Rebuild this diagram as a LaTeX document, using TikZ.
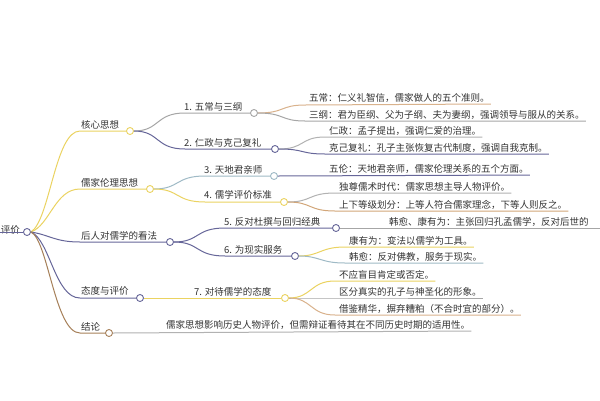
\documentclass[tikz,border=0pt]{standalone}
\usepackage{fontspec}
\setmainfont{Noto Sans CJK SC}
\begin{document}
\begin{tikzpicture}[x=1pt,y=-1pt,
  dot/.style={circle,draw=#1,fill=white,line width=0.9pt,inner sep=0pt,minimum size=7pt},
  lab/.style={font=\fontsize{9.5}{10}\selectfont,text=black!80,inner sep=1pt,anchor=south west},
  br/.style={draw=#1,line width=1pt}]
\useasboundingbox[fill=white] (0,0) rectangle (600,400);
\colorlet{ol}{yellow!55!brown!75!white}
\colorlet{gb}{blue!20!gray}
\colorlet{bg}{brown!60!gray}
\colorlet{tl}{cyan!30!gray!70!white}
% root
\node[lab,anchor=south east] (rt) at (21,236) {评价};
\node[dot=gb] (r) at (27,232) {};
\draw[br=gb] (0,232) -- (r.west);
% level 1
\node[dot=ol] (a) at (130,131) {};
\node[dot=ol] (b) at (150,189) {};
\node[dot=gb] (c) at (170,242) {};
\node[dot=gb] (d) at (140,298) {};
\node[dot=bg] (e) at (109,333) {};
\node[lab] (ta) at (80,130) {核心思想};
\node[lab] (tb) at (80,188) {儒家伦理思想};
\node[lab] (tc) at (80,241) {后人对儒学的看法};
\node[lab] (td) at (80,297) {态度与评价};
\node[lab] (te) at (80,332) {结论};
\draw[br=ol] (r.east) .. controls (50,220) and (55,131) .. (80,131) -- (a.west);
\draw[br=ol] (r.east) .. controls (50,225) and (55,189) .. (80,189) -- (b.west);
\draw[br=gb] (r.east) .. controls (50,235) and (55,242) .. (80,242) -- (c.west);
\draw[br=gb] (r.east) .. controls (50,240) and (55,298) .. (80,298) -- (d.west);
\draw[br=bg] (r.east) .. controls (48,240) and (55,333) .. (80,333) -- (e.west);
% conclusion leaf
\node[lab] (tl0) at (165,331) {儒家思想影响历史人物评价，但需辩证看待其在不同历史时期的适用性。};
\draw[br=gray!60] (e.east) -- (tl0.south east);
% level 2
\node[dot=gray!70] (n1) at (254,113) {};
\node[dot=gb] (n2) at (275,149) {};
\node[dot=tl] (n3) at (274,176) {};
\node[dot=ol] (n4) at (284,202) {};
\node[dot=gb] (n5) at (336,228) {};
\node[dot=gb] (n6) at (295,256) {};
\node[dot=ol] (n7) at (285,298) {};
\node[lab] (t1) at (183,112) {1. 五常与三纲};
\node[lab] (t2) at (183,148) {2. 仁政与克己复礼};
\node[lab] (t3) at (203,175) {3. 天地君亲师};
\node[lab] (t4) at (203,201) {4. 儒学评价标准};
\node[lab] (t5) at (223,227) {5. 反对杜撰与回归经典};
\node[lab] (t6) at (223,255) {6. 为现实服务};
\node[lab] (t7) at (193,297) {7. 对待儒学的态度};
\draw[br=gray!70] (a.east) .. controls (160,131) and (155,113) .. (185,113) -- (n1.west);
\draw[br=gb] (a.east) .. controls (160,131) and (155,149) .. (185,149) -- (n2.west);
\draw[br=tl] (b.east) .. controls (180,189) and (175,176) .. (205,176) -- (n3.west);
\draw[br=ol] (b.east) .. controls (180,189) and (175,202) .. (205,202) -- (n4.west);
\draw[br=gb] (c.east) .. controls (200,242) and (195,228) .. (225,228) -- (n5.west);
\draw[br=gb] (c.east) .. controls (200,242) and (195,256) .. (225,256) -- (n6.west);
\draw[br=ol] (d.east) -- (n7.west);
% level 3
\node[lab] (l1) at (308,104) {五常：仁义礼智信，儒家做人的五个准则。};
\node[lab] (l2) at (308,121) {三纲：君为臣纲、父为子纲、夫为妻纲，强调领导与服从的关系。};
\node[lab] (l3) at (328,137) {仁政：孟子提出，强调仁爱的治理。};
\node[lab] (l4) at (328,154) {克己复礼：孔子主张恢复古代制度，强调自我克制。};
\node[lab] (l5) at (328,175) {五伦：天地君亲师，儒家伦理关系的五个方面。};
\node[lab] (l6) at (338,193) {独尊儒术时代：儒家思想主导人物评价。};
\node[lab] (l7) at (338,211) {上下等级划分：上等人符合儒家理念，下等人则反之。};
\node[lab] (l8) at (388,228) {韩愈、康有为：主张回归孔孟儒学，反对后世的};
\node[lab] (l9) at (348,247) {康有为：变法以儒学为工具。};
\node[lab] (l10) at (348,263) {韩愈：反对佛教，服务于现实。};
\node[lab] (l11) at (338,281) {不应盲目肯定或否定。};
\node[lab] (l12) at (338,298) {区分真实的孔子与神圣化的形象。};
\node[lab] (l13) at (338,315) {借鉴精华，摒弃糟粕（不合时宜的部分）。};
\draw[br=brown!60] (n1.east) .. controls (285,113) and (280,105) .. (305,105) -- (l1.south east);
\draw[br=gray!70] (n1.east) .. controls (285,113) and (280,121) .. (305,121) -- (l2.south east);
\draw[br=gray!60] (n2.east) .. controls (305,149) and (300,137) .. (325,137) -- (l3.south east);
\draw[br=gb] (n2.east) .. controls (305,149) and (300,154) .. (325,154) -- (l4.south east);
\draw[br=gb] (n3.east) -- (l5.south east);
\draw[br=gray!60] (n4.east) .. controls (312,202) and (308,193) .. (335,193) -- (l6.south east);
\draw[br=brown!70] (n4.east) .. controls (312,202) and (308,211) .. (335,211) -- (l7.south east);
\draw[br=gray!70] (n5.east) -- (600,228);
\draw[br=ol] (n6.east) .. controls (320,256) and (320,247) .. (345,247) -- (l9.south east);
\draw[br=tl] (n6.east) .. controls (320,256) and (320,263) .. (345,263) -- (l10.south east);
\draw[br=ol] (n7.east) .. controls (312,298) and (310,281) .. (335,281) -- (l11.south east);
\draw[br=gray!70] (n7.east) .. controls (312,298) and (310,298) .. (335,298) -- (l12.south east);
\draw[br=brown!60] (n7.east) .. controls (312,298) and (310,315) .. (335,315) -- (l13.south east);
\end{tikzpicture}
\end{document}
